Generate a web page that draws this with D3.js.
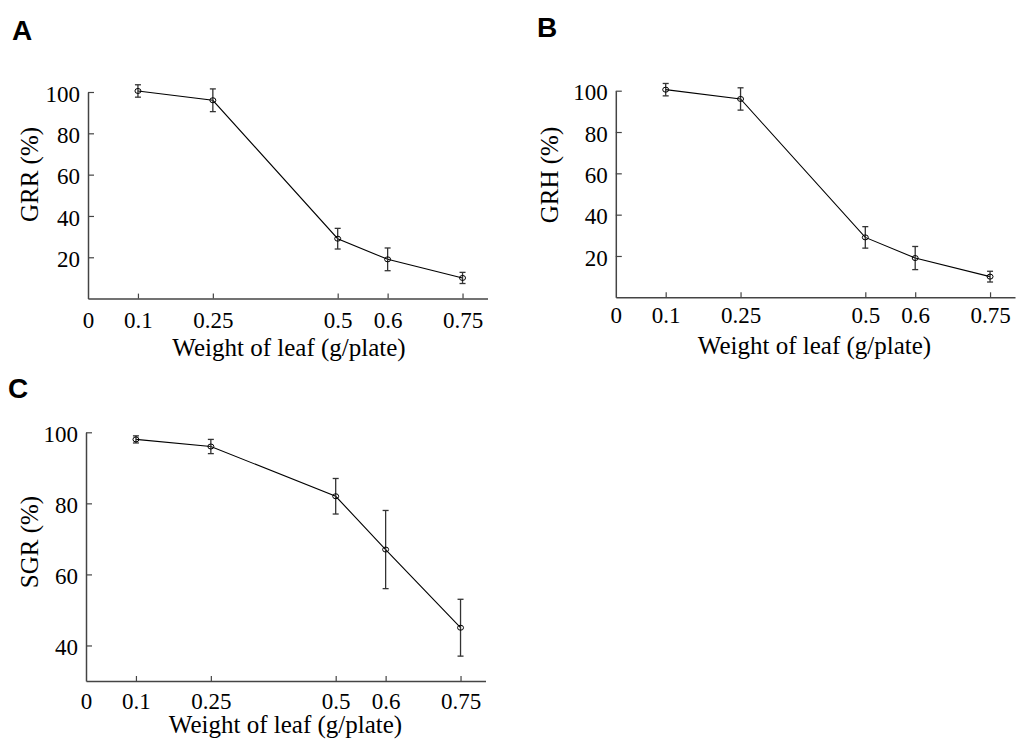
<!DOCTYPE html>
<html>
<head>
<meta charset="utf-8">
<script src="https://cdn.jsdelivr.net/npm/d3@7"></script>
<style>
  body { margin: 0; background: #fff; }
  svg { display: block; }
</style>
</head>
<body>
<svg id="chart" width="1016" height="739"></svg>
<script>
// ---- data ----
const weights = [0.1, 0.25, 0.5, 0.6, 0.75];
const xTickValues = [0, 0.1, 0.25, 0.5, 0.6, 0.75];
const xTickLabels = ["0", "0.1", "0.25", "0.5", "0.6", "0.75"];

const grrMean = [100.5, 96, 29, 19, 10];
const grrErr  = [3, 5.5, 5, 5.5, 2.7];

const grhMean = [100.5, 96, 29, 19, 10];
const grhErr  = [3, 5.4, 5.2, 5.6, 2.6];

const sgrMean = [98, 96, 82, 67, 45];
const sgrErr  = [1, 2, 5, 11, 8];

const yTicksAB = [20, 40, 60, 80, 100];
const yTicksC  = [40, 60, 80, 100];

// ---- layout ----
const panels = [
  { letter: "A", lx: 12, ly: 40, yTitle: "GRR (%)", mean: grrMean, err: grrErr,
    x0: 88, x1: 487.5, yTop: 92, yBot: 298.6, yDomain: [0, 100], yTicks: yTicksAB,
    xLabelBase: 29, titleX: 289, titleY: 356, yTitleX: 38, yTitleY: 174.5 },
  { letter: "B", lx: 537, ly: 37, yTitle: "GRH (%)", mean: grhMean, err: grhErr,
    x0: 615.8, x1: 1015, yTop: 90.7, yBot: 297.3, yDomain: [0, 100], yTicks: yTicksAB,
    xLabelBase: 26, titleX: 814.5, titleY: 354, yTitleX: 558, yTitleY: 175 },
  { letter: "C", lx: 8, ly: 398, yTitle: "SGR (%)", mean: sgrMean, err: sgrErr,
    x0: 86, x1: 485.5, yTop: 432.3, yBot: 681, yDomain: [30, 100], yTicks: yTicksC,
    xLabelBase: 27.5, titleX: 285.5, titleY: 733, yTitleX: 38, yTitleY: 542 }
];

const svg = d3.select("#chart");
const serif = "'Liberation Serif', 'Times New Roman', serif";
const axisColor = "#444";

panels.forEach(p => {
  const x = d3.scaleLinear().domain([0, 0.8]).range([p.x0, p.x1]);
  const y = d3.scaleLinear().domain(p.yDomain).range([p.yBot, p.yTop]);
  const g = svg.append("g");

  // panel letter
  svg.append("text")
    .attr("x", p.lx).attr("y", p.ly)
    .attr("font-family", "'Liberation Sans', Arial, sans-serif")
    .attr("font-weight", "bold").attr("font-size", 28)
    .text(p.letter);

  // x axis
  const xa = g.append("g")
    .attr("transform", `translate(0,${p.yBot})`)
    .call(d3.axisBottom(x)
      .tickValues(xTickValues)
      .tickFormat((d, i) => xTickLabels[i])
      .tickSizeInner(-5).tickSizeOuter(0).tickPadding(0));
  xa.select(".domain").attr("stroke", axisColor).attr("stroke-width", 1.5);
  xa.selectAll(".tick line").attr("stroke", axisColor).attr("stroke-width", 1.2);
  xa.selectAll(".tick").filter(d => d === 0).select("line").remove();
  xa.selectAll(".tick text")
    .attr("font-family", serif).attr("font-size", 23).attr("fill", "#000")
    .attr("dy", null).attr("y", p.xLabelBase);

  // y axis
  const ya = g.append("g")
    .attr("transform", `translate(${p.x0},0)`)
    .call(d3.axisLeft(y)
      .tickValues(p.yTicks)
      .tickSizeInner(-6).tickSizeOuter(0).tickPadding(8));
  ya.select(".domain").attr("stroke", axisColor).attr("stroke-width", 1.5);
  ya.selectAll(".tick line").attr("stroke", axisColor).attr("stroke-width", 1.2);
  ya.selectAll(".tick text")
    .attr("font-family", serif).attr("font-size", 23).attr("fill", "#000")
    .attr("dy", "0.4em");

  // axis titles
  svg.append("text")
    .attr("x", p.titleX).attr("y", p.titleY)
    .attr("text-anchor", "middle")
    .attr("font-family", serif).attr("font-size", 25)
    .text("Weight of leaf (g/plate)");
  svg.append("text")
    .attr("transform", `translate(${p.yTitleX},${p.yTitleY}) rotate(-90)`)
    .attr("text-anchor", "middle")
    .attr("font-family", serif).attr("font-size", 25)
    .text(p.yTitle);

  const data = weights.map((w, i) => ({ w, m: p.mean[i], e: p.err[i] }));

  // line
  g.append("path")
    .datum(data)
    .attr("fill", "none").attr("stroke", "#000").attr("stroke-width", 1.1)
    .attr("d", d3.line().x(d => x(d.w)).y(d => y(d.m)));

  // error bars
  const eb = g.append("g").attr("stroke", "#333").attr("stroke-width", 1.3);
  data.forEach(d => {
    const cx = x(d.w);
    eb.append("line").attr("x1", cx).attr("x2", cx)
      .attr("y1", y(d.m - d.e)).attr("y2", y(d.m + d.e));
    [d.m - d.e, d.m + d.e].forEach(v => {
      eb.append("line").attr("x1", cx - 3).attr("x2", cx + 3)
        .attr("y1", y(v)).attr("y2", y(v));
    });
  });

  // markers
  g.selectAll("ellipse.pt").data(data).enter().append("ellipse")
    .attr("cx", d => x(d.w)).attr("cy", d => y(d.m))
    .attr("rx", 3).attr("ry", 2.5)
    .attr("fill", "none").attr("stroke", "#000").attr("stroke-width", 1);
});
</script>
</body>
</html>
